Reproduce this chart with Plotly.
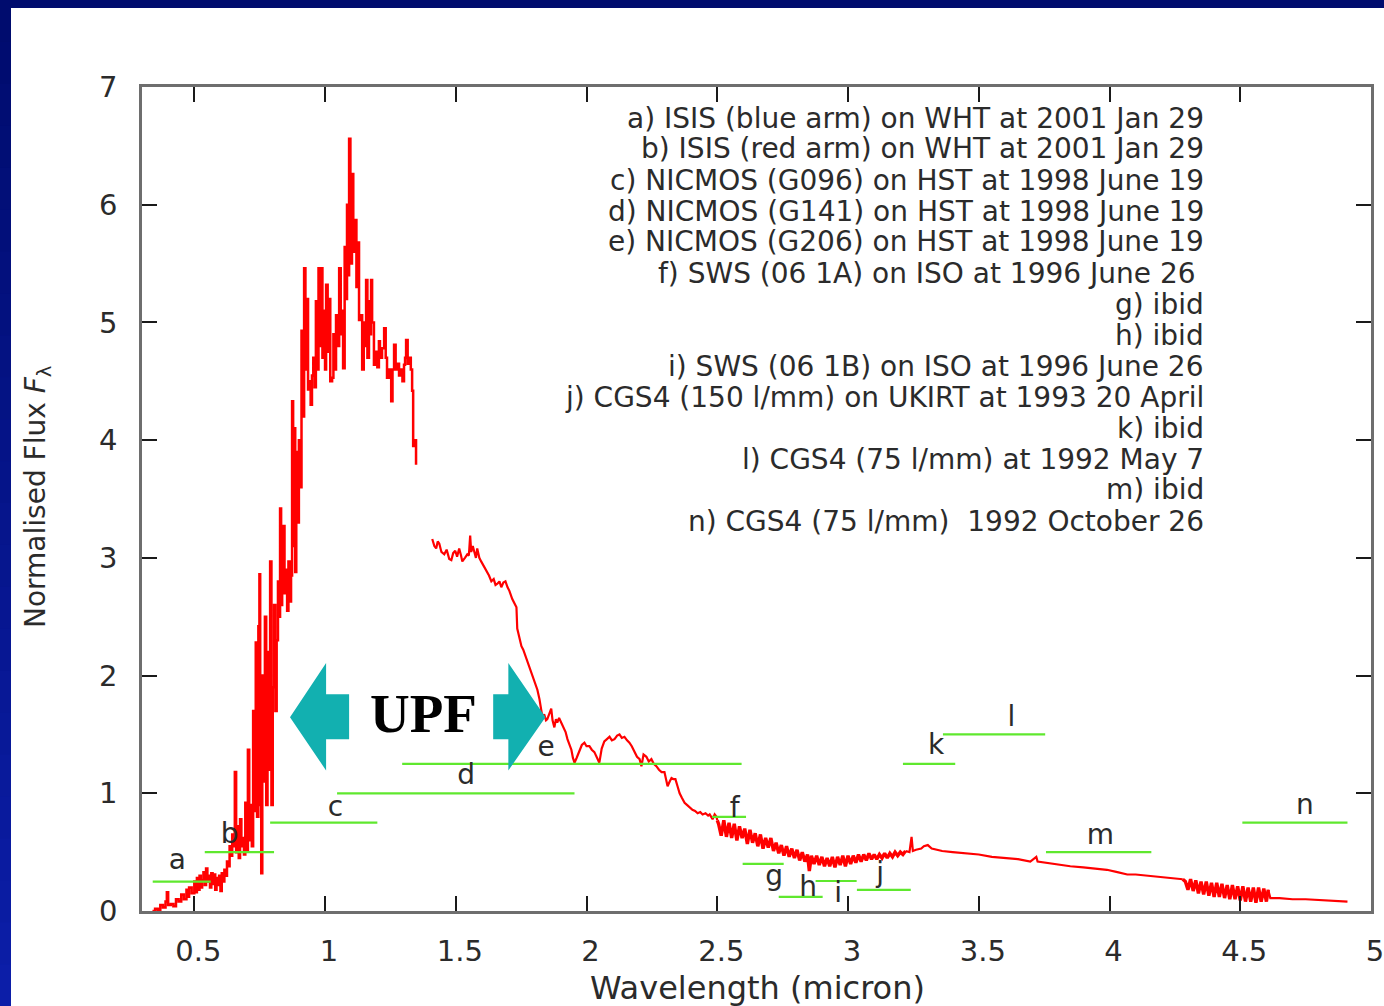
import plotly.graph_objects as go

# ---------------------------------------------------------------- data
# Optical spectrum (ISIS blue + red arms), wavelength in micron
opt_wl = [0.34, 0.35, 0.36, 0.37, 0.38, 0.39, 0.395, 0.40, 0.41, 0.42, 0.43, 0.44,
          0.45, 0.46, 0.47, 0.475, 0.48, 0.49, 0.50, 0.505, 0.51, 0.515, 0.52,
          0.525, 0.53, 0.535, 0.54, 0.545, 0.55, 0.555, 0.56, 0.565, 0.57, 0.575,
          0.58, 0.585, 0.59, 0.595, 0.60, 0.605, 0.61, 0.615, 0.62, 0.625, 0.63,
          0.635, 0.64, 0.645, 0.65, 0.655, 0.66, 0.665, 0.67, 0.675, 0.68, 0.685,
          0.69, 0.695, 0.70, 0.705, 0.71, 0.715, 0.72, 0.725, 0.73, 0.735, 0.74,
          0.745, 0.749, 0.752, 0.756, 0.76, 0.765, 0.77, 0.775, 0.78, 0.785, 0.79,
          0.795, 0.80, 0.805, 0.81, 0.815, 0.82, 0.825, 0.828, 0.832, 0.836, 0.84,
          0.845, 0.85, 0.855, 0.86, 0.865, 0.87, 0.874, 0.878, 0.882, 0.886, 0.89,
          0.895, 0.90, 0.905, 0.91, 0.915, 0.92, 0.925, 0.93, 0.935, 0.94, 0.945,
          0.95, 0.955, 0.96, 0.965, 0.97, 0.975, 0.98, 0.985, 0.99, 0.995, 1.00,
          1.004, 1.01, 1.015, 1.02, 1.027, 1.032, 1.037, 1.042, 1.048, 1.054, 1.06,
          1.065, 1.069, 1.075, 1.08, 1.084, 1.088, 1.092, 1.097, 1.103, 1.108,
          1.115, 1.12, 1.126, 1.13, 1.138, 1.142, 1.148, 1.152, 1.157, 1.162,
          1.168, 1.172, 1.176, 1.18, 1.187, 1.195, 1.20, 1.206, 1.21, 1.218, 1.226,
          1.232, 1.237, 1.245, 1.253, 1.258, 1.264, 1.27, 1.276, 1.283, 1.29,
          1.296, 1.302, 1.306, 1.31, 1.316, 1.322, 1.328, 1.333, 1.337, 1.341, 1.348]
opt_flux = [0.00, 0.02, 0.01, 0.05, 0.03, 0.08, 0.16, 0.05, 0.06, 0.04, 0.10, 0.08,
            0.14, 0.10, 0.18, 0.12, 0.20, 0.15, 0.25, 0.16, 0.28, 0.18, 0.30,
            0.20, 0.26, 0.33, 0.22, 0.36, 0.25, 0.30, 0.20, 0.32, 0.23, 0.31,
            0.18, 0.28, 0.22, 0.30, 0.17, 0.32, 0.25, 0.35, 0.30, 0.42, 0.38,
            0.55, 0.47, 0.65, 0.55, 1.18, 0.50, 0.72, 0.45, 0.78, 0.55, 0.62,
            0.48, 0.92, 0.52, 1.37, 0.60, 0.90, 0.55, 1.70, 0.85, 2.28, 0.80,
            2.42, 2.86, 0.90, 0.32, 2.00, 1.10, 2.50, 0.90, 2.20, 1.20, 2.97,
            0.90, 1.90, 2.60, 1.70, 2.30, 2.80, 2.50, 3.42, 2.60, 2.95, 3.27,
            2.70, 2.90, 2.55, 2.97, 2.63, 2.85, 4.33, 3.10, 4.10, 2.88, 3.90,
            3.30, 4.00, 3.60, 4.93, 4.20, 5.46, 4.60, 5.20, 4.43, 4.50, 4.30,
            4.55, 4.70, 4.45, 5.18, 4.60, 5.46, 4.80, 5.46, 4.70, 5.10, 4.60,
            5.32, 4.75, 5.20, 4.50, 4.53, 4.90, 4.60, 5.06, 4.80, 5.46, 4.90,
            5.10, 4.61, 5.64, 5.20, 6.00, 5.40, 6.56, 5.50, 6.26, 5.60,
            5.87, 5.30, 5.68, 5.02, 5.06, 4.60, 5.00, 4.80, 5.36, 4.70,
            5.18, 4.90, 5.36, 5.00, 4.64, 4.75, 4.62, 4.84, 4.70, 4.78, 4.95,
            4.70, 4.53, 4.60, 4.33, 4.60, 4.81, 4.60, 4.65, 4.55, 4.60,
            4.50, 4.64, 4.70, 4.85, 4.65, 4.70, 4.60, 4.42, 3.95, 4.00, 3.79]

# NICMOS grism spectrum
nicmos_wl = [1.41, 1.418, 1.425, 1.431, 1.437, 1.445, 1.456, 1.465, 1.475, 1.483, 1.49,
             1.498, 1.505, 1.513, 1.52, 1.525, 1.535, 1.544, 1.55, 1.555, 1.559, 1.565,
             1.571, 1.577, 1.582, 1.59, 1.597, 1.607, 1.617, 1.627, 1.636, 1.645, 1.652,
             1.659, 1.667, 1.674, 1.682, 1.69, 1.698, 1.705, 1.716, 1.727, 1.732, 1.735,
             1.743, 1.751, 1.758, 1.766, 1.774, 1.781, 1.79, 1.797, 1.805, 1.812, 1.82,
             1.826, 1.831, 1.838, 1.845, 1.85, 1.858, 1.865, 1.87, 1.877, 1.883, 1.888,
             1.895, 1.904, 1.91, 1.915, 1.92, 1.927, 1.935, 1.942, 1.948, 1.954, 1.962,
             1.973, 1.982, 1.992, 2.0, 2.011, 2.02, 2.03, 2.04, 2.049, 2.058, 2.068,
             2.078, 2.088, 2.097, 2.107, 2.117, 2.126, 2.135, 2.145, 2.155, 2.164,
             2.173, 2.183, 2.193, 2.203, 2.21, 2.218, 2.229, 2.238, 2.248, 2.257,
             2.267, 2.277, 2.287, 2.298, 2.304, 2.31, 2.318, 2.325, 2.333, 2.34, 2.348,
             2.356, 2.365, 2.375, 2.385, 2.394, 2.405, 2.415, 2.425, 2.435, 2.444,
             2.455, 2.465, 2.471, 2.477, 2.482, 2.49, 2.497, 2.50]
nicmos_flux = [3.16, 3.10, 3.08, 3.14, 3.12, 3.05, 3.03, 3.07, 2.99, 2.98, 3.04,
               3.06, 3.01, 3.08, 3.02, 2.97, 3.00, 3.03, 3.02, 3.19, 3.05, 3.10,
               3.05, 3.00, 3.08, 3.00, 2.97, 2.93, 2.89, 2.85, 2.80, 2.82, 2.77,
               2.78, 2.80, 2.75, 2.79, 2.80, 2.75, 2.72, 2.65, 2.60, 2.58, 2.40,
               2.33, 2.25, 2.22, 2.17, 2.12, 2.07, 2.01, 1.97, 1.92, 1.88, 1.80,
               1.73, 1.65, 1.67, 1.62, 1.63, 1.68, 1.72, 1.62, 1.56, 1.63, 1.60,
               1.64, 1.60, 1.57, 1.55, 1.52, 1.46, 1.40, 1.37, 1.30, 1.26, 1.30,
               1.37, 1.41, 1.43, 1.40, 1.40, 1.37, 1.35, 1.30, 1.26, 1.38, 1.44,
               1.46, 1.48, 1.45, 1.46, 1.49, 1.50, 1.47, 1.48, 1.45, 1.43,
               1.40, 1.35, 1.31, 1.29, 1.23, 1.33, 1.31, 1.27, 1.29, 1.25,
               1.23, 1.20, 1.18, 1.18, 1.12, 1.06, 1.10, 1.13, 1.12, 1.12, 1.06,
               1.00, 0.96, 0.92, 0.90, 0.88, 0.86, 0.85, 0.83, 0.84, 0.82,
               0.83, 0.81, 0.82, 0.79, 0.78, 0.82, 0.80, 0.77]

# SWS spectrum (noisy)
sws_wl = [2.50, 2.505, 2.515, 2.525, 2.535, 2.545, 2.555, 2.565, 2.575, 2.585, 2.595,
          2.605, 2.615, 2.625, 2.635, 2.645, 2.655, 2.665, 2.675, 2.685, 2.695,
          2.705, 2.715, 2.725, 2.735, 2.745, 2.755, 2.765, 2.775, 2.785, 2.795,
          2.805, 2.815, 2.825, 2.835, 2.845, 2.852, 2.86, 2.87, 2.88, 2.89, 2.90,
          2.91, 2.92, 2.93, 2.94, 2.95, 2.96, 2.97, 2.98, 2.99, 3.00, 3.01, 3.02,
          3.03, 3.04, 3.05, 3.06, 3.07, 3.08, 3.09, 3.10, 3.11, 3.12, 3.13, 3.14,
          3.15, 3.16, 3.17, 3.18, 3.19, 3.20, 3.21, 3.22]
sws_flux = [0.77, 0.74, 0.64, 0.77, 0.63, 0.75, 0.62, 0.74, 0.60, 0.72, 0.62,
            0.70, 0.57, 0.69, 0.58, 0.66, 0.55, 0.65, 0.53, 0.62, 0.54,
            0.62, 0.51, 0.58, 0.49, 0.56, 0.47, 0.55, 0.46, 0.53, 0.45,
            0.52, 0.43, 0.50, 0.42, 0.48, 0.34, 0.47, 0.40, 0.47, 0.39, 0.46,
            0.38, 0.45, 0.38, 0.46, 0.37, 0.46, 0.39, 0.47, 0.38, 0.47, 0.40, 0.47,
            0.41, 0.48, 0.42, 0.48, 0.43, 0.49, 0.44, 0.48, 0.44, 0.48, 0.45, 0.49,
            0.45, 0.49, 0.46, 0.50, 0.47, 0.50, 0.48, 0.51]

# CGS4 spectrum, 3.2-4.3 micron
cgs4_wl = [3.22, 3.235, 3.243, 3.248, 3.26, 3.28, 3.29, 3.305, 3.32, 3.34, 3.36,
           3.40, 3.45, 3.50, 3.55, 3.60, 3.65, 3.697, 3.72, 3.725, 3.754, 3.80,
           3.85, 3.90, 3.95, 3.99, 4.03, 4.068, 4.10, 4.15, 4.20, 4.25, 4.28]
cgs4_flux = [0.51, 0.50, 0.63, 0.51, 0.52, 0.53, 0.55, 0.56, 0.53, 0.52, 0.51,
             0.50, 0.49, 0.48, 0.46, 0.45, 0.44, 0.42, 0.46, 0.42, 0.41, 0.40,
             0.38, 0.37, 0.36, 0.35, 0.33, 0.31, 0.31, 0.30, 0.29, 0.28, 0.27]

# CGS4 spectrum, noisy stretch near 4.3-4.6 micron
cgs4_noisy_wl = [4.28, 4.29, 4.30, 4.31, 4.32, 4.33, 4.34, 4.35, 4.36, 4.37, 4.38,
                 4.39, 4.40, 4.41, 4.42, 4.43, 4.44, 4.45, 4.46, 4.47, 4.48, 4.49,
                 4.50, 4.51, 4.52, 4.53, 4.54, 4.55, 4.56, 4.57, 4.58, 4.59, 4.60,
                 4.607]
cgs4_noisy_flux = [0.27, 0.25, 0.18, 0.27, 0.17, 0.26, 0.15, 0.25, 0.14, 0.25, 0.13,
                   0.24, 0.12, 0.24, 0.12, 0.23, 0.11, 0.22, 0.10, 0.22, 0.10, 0.21,
                   0.09, 0.21, 0.08, 0.20, 0.08, 0.20, 0.07, 0.20, 0.08, 0.19, 0.08,
                   0.18]

# CGS4 spectrum, long-wavelength tail
cgs4_tail_wl = [4.607, 4.615, 4.65, 4.70, 4.75, 4.80, 4.85, 4.91]
cgs4_tail_flux = [0.18, 0.11, 0.11, 0.10, 0.10, 0.095, 0.09, 0.08]

# Wavelength coverage of each observation (green bars)
seg_names = ["a", "b", "c", "d", "e", "f", "g", "h", "i", "j", "k", "l", "m", "n"]
seg_start = [0.341, 0.54, 0.79, 1.046, 1.295, 2.48, 2.597, 2.735, 2.876, 3.034,
             3.21, 3.363, 3.757, 4.508]
seg_end = [0.563, 0.805, 1.20, 1.954, 2.593, 2.61, 2.754, 2.903, 3.033, 3.24,
           3.41, 3.754, 4.16, 4.91]
seg_level = [0.25, 0.50, 0.75, 1.00, 1.25, 0.80, 0.40, 0.12, 0.255, 0.18,
             1.25, 1.50, 0.50, 0.75]
# where each bar's letter sits (wavelength, flux)
label_x = [0.435, 0.635, 1.040, 1.540, 1.845, 2.567, 2.717, 2.847, 2.962, 3.123,
           3.337, 3.625, 3.965, 4.747]
label_y = [0.42, 0.64, 0.87, 1.14, 1.38, 0.86, 0.28, 0.19, 0.14, 0.31,
           1.39, 1.63, 0.63, 0.88]

observations = [
    "a) ISIS (blue arm) on WHT at 2001 Jan 29",
    "b) ISIS (red arm) on WHT at 2001 Jan 29",
    "c) NICMOS (G096) on HST at 1998 June 19",
    "d) NICMOS (G141) on HST at 1998 June 19",
    "e) NICMOS (G206) on HST at 1998 June 19",
    "f) SWS (06 1A) on ISO at 1996 June 26&nbsp;",
    "g) ibid",
    "h) ibid",
    "i) SWS (06 1B) on ISO at 1996 June 26",
    "j) CGS4 (150 l/mm) on UKIRT at 1993 20 April",
    "k) ibid",
    "l) CGS4 (75 l/mm) at 1992 May 7",
    "m) ibid",
    "n) CGS4 (75 l/mm)&nbsp; 1992 October 26",
]

x_ticks = [0.5, 1, 1.5, 2, 2.5, 3, 3.5, 4, 4.5, 5]
x_tick_text = ["0.5", "1", "1.5", "2", "2.5", "3", "3.5", "4", "4.5", "5"]
y_ticks = [0, 1, 2, 3, 4, 5, 6, 7]

# ---------------------------------------------------------------- layout geometry
W, H = 1384, 1006
PL, PR, PT, PB = 142, 1371, 87, 911          # plot-area edges in pixels


def paper_x(px):
    return (px - PL) / (PR - PL)


def paper_y(py):
    return (PB - py) / (PB - PT)


TEXT = "#2b2b2b"
SANS = "DejaVu Sans"
RED = "#ff0000"
GREEN = "#5fe82e"
TEAL = "#12b0b0"

fig = go.Figure()

fig.add_trace(go.Scatter(x=opt_wl, y=opt_flux, mode="lines", line_shape="hv",
                         line=dict(color=RED, width=2.5), hoverinfo="skip"))
for wl, fl, lw in ((nicmos_wl, nicmos_flux, 2.2),
                   (sws_wl, sws_flux, 3.4),
                   (cgs4_wl, cgs4_flux, 2.2),
                   (cgs4_noisy_wl, cgs4_noisy_flux, 3.4),
                   (cgs4_tail_wl, cgs4_tail_flux, 2.2)):
    fig.add_trace(go.Scatter(x=wl, y=fl, mode="lines",
                             line=dict(color=RED, width=lw), hoverinfo="skip"))

# coverage bars as one broken line
bx, by = [], []
for s, e, lv in zip(seg_start, seg_end, seg_level):
    bx += [s, e, None]
    by += [lv, lv, None]
fig.add_trace(go.Scatter(x=bx, y=by, mode="lines", line=dict(color=GREEN, width=2.2),
                         hoverinfo="skip"))

fig.add_trace(go.Scatter(x=label_x, y=label_y, mode="text", text=seg_names,
                         textfont=dict(family=SANS, size=28, color=TEXT),
                         hoverinfo="skip"))

annotations = []
for i, line in enumerate(observations):
    annotations.append(dict(
        xref="paper", yref="paper", x=paper_x(1206), y=paper_y(118 + 31.0 * i),
        xanchor="right", yanchor="middle", showarrow=False, text=line,
        font=dict(family=SANS, size=28, color=TEXT)))

annotations.append(dict(
    xref="paper", yref="paper", x=paper_x(757), y=paper_y(988),
    xanchor="center", yanchor="middle", showarrow=False,
    text="Wavelength (micron)", font=dict(family=SANS, size=32, color=TEXT)))
annotations.append(dict(
    xref="paper", yref="paper", x=paper_x(37), y=paper_y(497),
    xanchor="center", yanchor="middle", showarrow=False, textangle=-90,
    text="Normalised Flux <i>F</i><sub>λ</sub>",
    font=dict(family=SANS, size=28, color=TEXT)))
annotations.append(dict(
    xref="x", yref="y", x=1.375, y=1.68, xanchor="center", yanchor="middle",
    showarrow=False, text="<b>UPF</b>",
    font=dict(family="Liberation Serif", size=55, color="#000000")))

shapes = []
# double-headed marker around the UPF label
left_arrow = "M 0.866 1.645 L 1.004 2.106 L 1.004 1.841 L 1.092 1.841 L 1.092 1.458 L 1.004 1.458 L 1.004 1.194 Z"
right_arrow = "M 1.843 1.645 L 1.701 2.106 L 1.701 1.841 L 1.643 1.841 L 1.643 1.458 L 1.701 1.458 L 1.701 1.194 Z"
for p in (left_arrow, right_arrow):
    shapes.append(dict(type="path", xref="x", yref="y", path=p,
                       fillcolor=TEAL, line=dict(width=0), layer="above"))

# slide frame: navy band across the top, blue band down the left
shapes.append(dict(type="rect", xref="paper", yref="paper",
                   x0=paper_x(0), x1=paper_x(W), y0=paper_y(8), y1=paper_y(0),
                   fillcolor="#000c6e", line=dict(width=0), layer="above"))
n_strips = 24
for k in range(n_strips):
    t = k / (n_strips - 1)
    r = int(0x00 + t * (0x0c - 0x00))
    g = int(0x0c + t * (0x1e - 0x0c))
    b = int(0x6e + t * (0xa8 - 0x6e))
    y0 = k * H / n_strips
    y1 = (k + 1) * H / n_strips + 1
    shapes.append(dict(type="rect", xref="paper", yref="paper",
                       x0=paper_x(0), x1=paper_x(11), y0=paper_y(y1), y1=paper_y(y0),
                       fillcolor=f"#{r:02x}{g:02x}{b:02x}", line=dict(width=0),
                       layer="above"))

axis_common = dict(
    showgrid=False, zeroline=False, showline=True, linecolor="#6e6e6e", linewidth=2.5,
    mirror="ticks", ticks="inside", ticklen=15, tickwidth=2, tickcolor="#1a1a1a",
    tickfont=dict(family=SANS, size=29, color=TEXT), automargin=False,
    ticklabeloverflow="allow",
)

fig.update_layout(
    width=W, height=H, margin=dict(l=PL, r=W - PR, t=PT, b=H - PB),
    paper_bgcolor="white", plot_bgcolor="white", showlegend=False,
    xaxis=dict(range=[0.3, 5], tickvals=x_ticks, ticktext=x_tick_text,
               ticklabelstandoff=12, ticklabelshift=4, **axis_common),
    yaxis=dict(range=[0, 7], tickvals=y_ticks, ticklabelstandoff=16, **axis_common),
    annotations=annotations, shapes=shapes,
)

fig.write_html("out.html")
